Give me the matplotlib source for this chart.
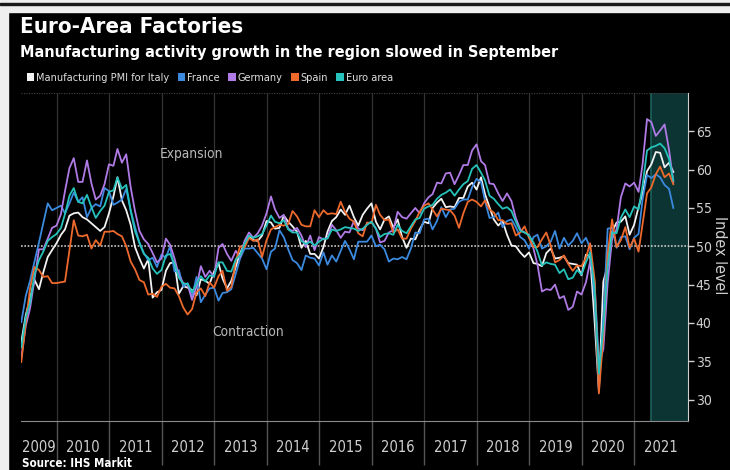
import numpy as np
import pandas as pd
import matplotlib
matplotlib.use("Agg")
import matplotlib.pyplot as plt
import matplotlib.dates as mdates
import matplotlib.ticker as mticker
from matplotlib.patches import Rectangle, Patch

# monthly manufacturing PMI readings, April 2009 .. September 2021
months = pd.date_range("2009-04-30", "2021-09-30", freq="ME")

italy = [
    37.5, 41.0, 43.2, 45.6, 44.4, 46.6, 48.6, 49.5, 50.4,
    51.5, 52.2, 54.0, 54.3, 54.4, 53.8, 53.5, 53.0, 52.5, 52.0, 52.5, 54.3,
    56.5, 59.0, 56.0, 54.7, 52.8, 49.9, 48.4, 47.1, 48.3, 43.3, 44.0, 44.3,
    46.8, 47.8, 47.9, 43.8, 44.8, 44.6, 44.3, 43.6, 45.7, 45.5, 45.1, 46.7,
    47.8, 45.8, 44.5, 45.5, 47.3, 49.1, 50.4, 51.3, 50.8, 50.7, 51.4, 53.3,
    53.1, 52.3, 52.4, 54.0, 53.2, 52.6, 51.9, 49.8, 50.7, 49.0, 49.0, 48.4,
    49.9, 51.9, 53.3, 53.8, 54.8, 54.1, 55.3, 53.8, 52.7, 54.1, 54.9, 55.6,
    53.2, 52.2, 53.5, 53.9, 52.4, 53.5, 51.2, 49.8, 51.0, 50.9, 52.2, 53.2,
    53.0, 55.0, 55.7, 56.2, 55.1, 55.2, 55.1, 56.3, 56.3, 57.8, 58.3, 57.4,
    59.0, 56.8, 55.1, 53.5, 52.7, 53.3, 51.5, 50.1, 50.0, 49.2, 48.6, 49.2,
    47.8, 47.7, 47.4, 49.1, 49.7, 48.4, 48.5, 48.7, 47.8, 47.7, 47.6, 46.2,
    48.9, 48.7, 40.3, 31.1, 45.4, 47.5, 51.9, 53.1, 53.2, 53.9, 51.5, 52.8,
    55.1, 56.9, 59.8, 60.7, 62.3, 62.2, 60.3, 60.9, 59.7,
]

france = [
    40.1, 43.5, 45.5, 48.0, 50.5, 53.0, 55.6, 54.7, 55.0,
    55.3, 54.3, 55.6, 57.0, 55.8, 56.4, 53.8, 55.0, 55.5, 55.2, 57.6, 57.2,
    55.4, 55.7, 56.1, 57.5, 54.7, 52.5, 50.5, 49.1, 48.2, 48.5, 47.3, 48.9,
    48.5, 50.0, 46.7, 46.9, 44.7, 45.2, 43.4, 46.0, 42.7, 43.7, 44.5, 44.6,
    42.9, 43.9, 44.0, 44.4, 46.4, 48.4, 49.7, 49.7, 49.8, 49.1, 48.4, 47.0,
    49.3, 49.7, 52.1, 51.2, 49.6, 48.2, 47.8, 46.9, 48.8, 48.5, 48.4, 47.5,
    49.2, 47.6, 48.8, 48.0, 49.4, 50.7, 49.6, 48.3, 50.6, 50.6, 50.6, 51.4,
    50.0, 50.2, 49.6, 48.0, 48.4, 48.3, 48.6, 48.3, 49.7, 51.8, 51.7, 53.5,
    53.6, 52.2, 53.3, 55.1, 53.8, 54.8, 54.9, 55.8, 56.1, 56.1, 57.7, 58.8,
    58.4, 55.9, 53.7, 53.8, 54.4, 52.5, 53.3, 53.5, 52.5, 51.2, 50.8, 49.7,
    51.2, 51.5, 49.7, 50.0, 50.6, 52.0, 49.7, 51.1, 50.1, 50.7, 51.7, 50.4,
    51.1, 49.8, 43.2, 31.5, 40.6, 52.3, 52.4, 49.8, 51.2, 51.3, 49.6, 51.1,
    51.6, 56.1, 59.3, 58.9, 59.4, 59.0, 58.0, 57.5, 55.0,
]

germany = [
    35.4, 39.6, 41.9, 45.7, 49.6, 49.6, 51.0, 52.4, 52.7,
    54.2, 57.2, 60.2, 61.5, 58.4, 58.4, 61.2, 58.2, 56.1, 56.6, 58.1, 60.7,
    60.5, 62.7, 60.9, 62.0, 57.7, 54.6, 52.0, 50.9, 50.3, 49.1, 47.9, 48.4,
    51.0, 50.2, 48.4, 46.2, 45.2, 45.0, 43.0, 44.7, 47.4, 46.0, 46.8, 46.0,
    49.8, 50.3, 49.0, 48.1, 49.4, 48.6, 50.7, 51.8, 51.1, 51.7, 52.7, 54.3,
    56.5, 54.8, 53.7, 54.1, 52.3, 52.0, 52.4, 51.4, 49.9, 51.4, 49.5, 51.2,
    50.9, 51.1, 52.8, 52.1, 51.1, 51.9, 51.8, 53.3, 52.3, 52.1, 52.9, 53.2,
    52.3, 50.5, 50.7, 51.8, 52.1, 54.5, 53.8, 53.6, 54.3, 55.0, 54.3, 55.6,
    56.4, 56.8, 58.3, 58.2, 59.5, 59.6, 58.1, 59.3, 60.6, 60.6, 62.5, 63.3,
    61.1, 60.6, 58.2, 58.1, 56.9, 55.9, 56.9, 55.9, 53.7, 52.2, 51.8, 51.5,
    49.7, 47.6, 44.1, 44.4, 44.3, 45.0, 43.2, 43.5, 41.7, 42.1, 44.1, 43.7,
    45.3, 48.0, 45.4, 34.5, 36.6, 45.2, 51.0, 52.2, 56.4, 58.2, 57.8, 58.3,
    57.1, 60.7, 66.6, 66.2, 64.4, 65.1, 65.9, 62.6, 58.4,
]

spain = [
    34.9, 40.0, 44.5, 47.3, 46.9, 46.0, 46.1, 45.2, 45.2,
    45.3, 45.4, 49.5, 53.4, 51.4, 51.3, 51.5, 49.7, 50.8, 50.1, 51.9, 51.9,
    52.0, 51.6, 51.3, 50.0, 48.0, 47.0, 45.6, 45.3, 43.7, 43.8, 43.4, 44.7,
    45.1, 44.6, 44.5, 43.5, 42.0, 41.1, 41.8, 44.0, 44.5, 43.5, 45.3, 44.6,
    46.1, 46.8, 44.2, 44.7, 48.1, 50.0, 49.8, 51.1, 50.7, 50.9, 48.6, 50.8,
    52.2, 52.5, 52.8, 52.7, 52.9, 54.6, 53.9, 52.8, 52.6, 52.6, 54.7, 53.8,
    54.7, 54.2, 54.3, 54.2, 55.8, 54.5, 53.6, 53.2, 51.7, 51.3, 53.1, 53.0,
    55.4, 54.1, 53.4, 53.5, 51.8, 52.2, 51.0, 51.0, 52.3, 53.3, 54.5, 55.3,
    55.6, 54.8, 53.9, 54.9, 54.8, 54.7, 54.0, 52.4, 54.3, 55.8, 56.1, 55.8,
    55.2, 56.0, 54.8, 54.4, 53.4, 53.4, 52.9, 53.0, 51.4, 51.8, 52.6, 51.1,
    49.9, 49.9, 50.9, 51.8, 50.1, 47.9, 48.2, 48.8, 47.7, 46.8, 47.5, 47.4,
    48.5, 50.4, 45.7, 30.8, 38.3, 49.0, 53.5, 49.9, 50.8, 52.5, 49.8, 51.0,
    49.3, 52.9, 56.9, 57.7, 59.4, 60.4, 59.0, 59.5, 58.1,
]

euro_area = [
    36.8, 40.7, 42.6, 46.3, 48.2, 49.3, 50.7, 51.2, 51.6,
    52.4, 54.2, 56.6, 57.6, 55.8, 55.6, 56.7, 55.1, 53.7, 54.6, 55.3, 57.1,
    57.3, 59.0, 57.5, 58.0, 54.6, 52.0, 50.4, 49.0, 48.5, 47.1, 46.4, 46.9,
    48.8, 49.0, 47.7, 45.9, 45.1, 45.1, 44.0, 45.1, 46.1, 45.4, 46.2, 46.1,
    47.9, 47.9, 46.8, 46.7, 48.3, 48.8, 50.3, 51.4, 51.1, 51.3, 51.6, 52.7,
    54.0, 53.2, 53.0, 53.4, 52.2, 51.8, 51.8, 50.7, 50.3, 50.6, 50.1, 50.6,
    51.0, 51.0, 52.2, 52.0, 52.2, 52.5, 52.4, 52.3, 52.0, 52.3, 52.8, 53.2,
    52.3, 51.2, 51.6, 51.7, 51.5, 52.8, 52.0, 51.7, 52.6, 53.5, 53.7, 54.9,
    55.2, 55.4, 56.2, 56.7, 57.0, 57.4, 56.6, 57.4, 58.1, 58.5, 60.1, 60.6,
    59.6, 58.6, 56.6, 56.2, 55.5, 54.9, 55.1, 54.6, 53.2, 52.0, 51.8, 51.4,
    50.5, 49.3, 47.5, 47.9, 47.7, 47.6, 46.5, 47.0, 45.7, 45.9, 46.9, 46.3,
    47.9, 49.2, 44.5, 33.4, 39.4, 47.4, 51.8, 51.7, 53.7, 54.8, 53.8, 55.2,
    54.8, 57.9, 62.5, 62.9, 63.1, 63.4, 62.8, 61.4, 58.6,
]

series_names = ["Manufacturing PMI for Italy", "France", "Germany", "Spain", "Euro area"]
series_colors = ["#f2f2f2", "#3b8ae0", "#b07be6", "#ee6a2c", "#25c3bb"]
series_values = [italy, france, germany, spain, euro_area]

y_ticks = [30, 35, 40, 45, 50, 55, 60, 65]
years = list(range(2009, 2022))

x_start = pd.Timestamp("2009-04-28")
x_end = pd.Timestamp("2022-01-10")
highlight_start = pd.Timestamp("2021-04-28")

FONT = dict(family="DejaVu Sans", fontstretch="condensed")
W, H = 730, 470

fig = plt.figure(figsize=(W / 100, H / 100), dpi=100, facecolor="black")

# light frame strips along the top and left edge
fig.patches.append(Rectangle((0, 0), 8 / W, 1, transform=fig.transFigure,
                             color="#efefef", zorder=-1))
fig.patches.append(Rectangle((0, 1 - 12 / H), 1, 12 / H, transform=fig.transFigure,
                             color="#efefef", zorder=-1))
fig.patches.append(Rectangle((0, 1 - 5 / H), 1, 2 / H, transform=fig.transFigure,
                             color="#1a1a1a", zorder=0))

ax = fig.add_axes([21 / W, 49 / H, 667 / W, 328 / H])
ax.set_facecolor("black")

ax.axvspan(highlight_start, x_end, color="#0b3432", lw=0, zorder=0)
ax.axvline(highlight_start, color="#1d615c", lw=1.2, zorder=0.5)

for name, color, vals in zip(series_names, series_colors, series_values):
    ax.plot(months, vals, color=color, lw=1.3, label=name, zorder=3)

ax.axhline(50, color="#c8c8c8", lw=1.2, ls=(0, (1, 1)), zorder=2)

ax.set_xlim(x_start, x_end)
ax.set_ylim(27.2, 70.0)

# y axis on the right
ax.yaxis.tick_right()
ax.set_yticks(y_ticks)
ax.set_yticks(np.arange(30, 71, 5), minor=True)
ax.yaxis.grid(True, which="minor", color="#3a3a3a", lw=0.9, ls=(0, (1, 1)), zorder=1)
ax.tick_params(axis="y", which="major", colors="#d0d0d0", length=4, width=1,
               labelsize=10, pad=1.5)
ax.tick_params(axis="y", which="minor", length=0)
for lbl in ax.get_yticklabels():
    lbl.set_fontstretch("condensed")
ax.text(1.047, 0.506, "Index level", transform=ax.transAxes, color="#d0d0d0",
        fontsize=11.5, rotation=270, ha="center", va="center", **FONT)

# year boundaries as long ticks, year names centred on each span
boundaries = [pd.Timestamp(f"{y}-01-01") for y in years[1:]]
centres = []
for y in years:
    lo = max(pd.Timestamp(f"{y}-01-01"), x_start)
    hi = min(pd.Timestamp(f"{y + 1}-01-01"), x_end)
    centres.append(lo + (hi - lo) / 2)
ax.xaxis.set_major_locator(mticker.FixedLocator(mdates.date2num(boundaries)))
ax.xaxis.set_major_formatter(mticker.NullFormatter())
ax.xaxis.set_minor_locator(mticker.FixedLocator(mdates.date2num(centres)))
ax.xaxis.set_minor_formatter(mticker.FixedFormatter([str(y) for y in years]))
ax.tick_params(axis="x", which="major", colors="#555555", length=32, width=1)
ax.tick_params(axis="x", which="minor", length=0, labelsize=10.5, labelcolor="#d0d0d0",
               pad=14)
for lbl in ax.get_xticklabels(minor=True):
    lbl.set_fontstretch("condensed")
ax.xaxis.grid(True, which="major", color="#333333", lw=0.9, zorder=1)

for side in ["top", "left"]:
    ax.spines[side].set_visible(False)
ax.spines["bottom"].set_color("#8a8a8a")
ax.spines["right"].set_color("#d0d0d0")

ax.text(pd.Timestamp("2012-07-25"), 62.1, "Expansion", color="#b8b8b8",
        fontsize=9.8, ha="center", va="center", **FONT)
ax.text(pd.Timestamp("2013-08-25"), 38.8, "Contraction", color="#b8b8b8",
        fontsize=9.8, ha="center", va="center", **FONT)

fig.text(20 / W, 1 - 33 / H, "Euro-Area Factories", color="white",
         fontsize=16, fontweight="bold", va="baseline", **FONT)
fig.text(20 / W, 1 - 57 / H, "Manufacturing activity growth in the region slowed in September",
         color="white", fontsize=11.6, fontweight="bold", va="baseline", **FONT)
fig.text(22 / W, 1 - 467 / H, "Source: IHS Markit", color="white",
         fontsize=8.3, fontweight="bold", va="baseline", **FONT)

handles = [Patch(facecolor=c, edgecolor="none", label=n)
           for n, c in zip(series_names, series_colors)]
leg = fig.legend(handles=handles, loc="center left", bbox_to_anchor=(17 / W, 1 - 78 / H),
                 ncol=5, frameon=False, handlelength=0.7, handleheight=0.7,
                 handletextpad=0.2, columnspacing=0.75,
                 prop={"family": "DejaVu Sans", "stretch": "condensed", "size": 7.8})
for t in leg.get_texts():
    t.set_color("#e0e0e0")

fig.savefig("out.png", dpi=100, facecolor="black")
